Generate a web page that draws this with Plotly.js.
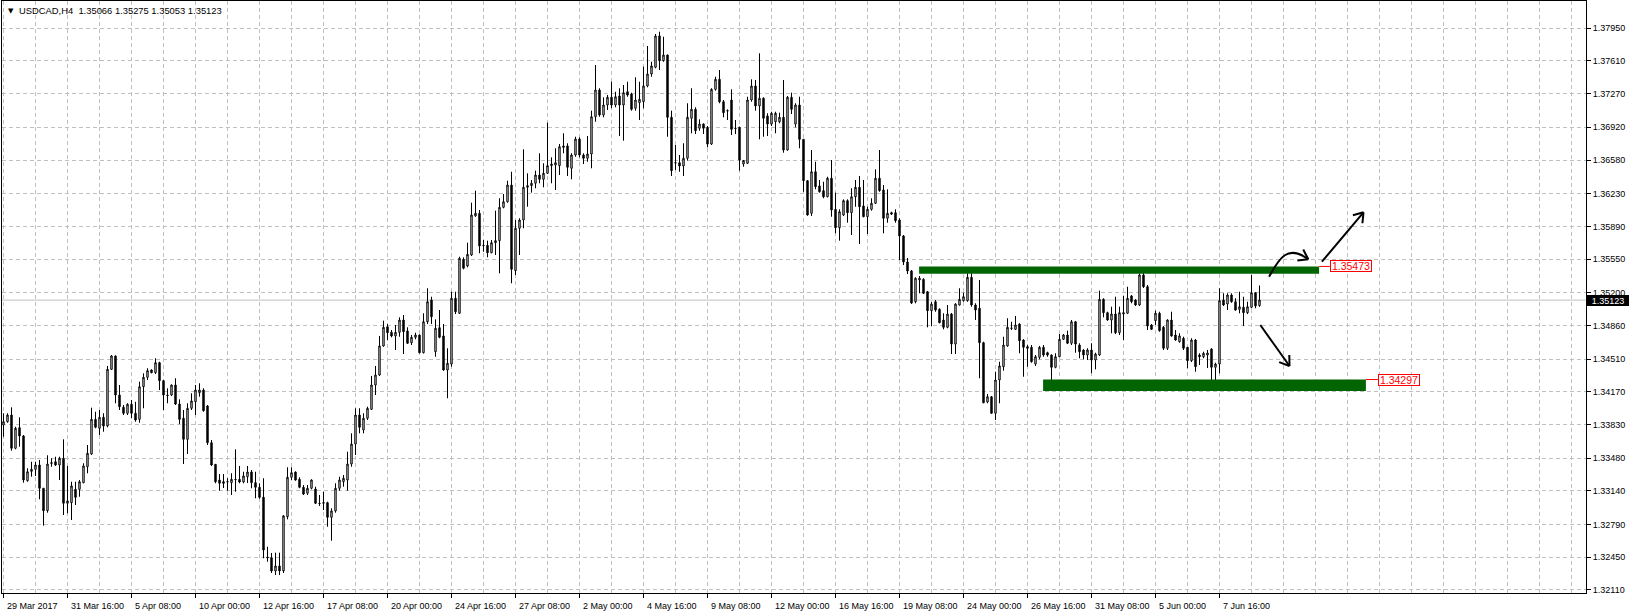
<!DOCTYPE html>
<html><head><meta charset="utf-8">
<script src="https://cdn.plot.ly/plotly-3.0.1.min.js"></script>
<style>html,body{margin:0;padding:0;background:#fff;overflow:hidden}#chart{width:1629px;height:613px}</style>
</head><body><div id="chart"></div>
<script>
// ---------------- DATA (USDCAD, H4) ----------------
const symbol = "USDCAD,H4";
const open = [
1.33824,1.33858,1.33928,1.33582,1.33796,1.33710,1.33245,1.33342,1.33363,1.33408,
1.33166,1.32933,1.33424,1.33442,1.33408,1.33478,1.33010,1.33016,1.33155,1.33155,
1.33224,1.33390,1.33522,1.33883,1.33790,1.33904,1.33814,1.34403,1.34542,1.34136,
1.34008,1.33946,1.34040,1.33946,1.33883,1.34222,1.34320,1.34396,1.34368,1.34472,
1.34285,1.34136,1.34136,1.34240,1.34042,1.33894,1.33675,1.33998,1.34066,1.34160,
1.34188,1.34022,1.33640,1.33415,1.33252,1.33234,1.33231,1.33224,1.33259,1.33259,
1.33231,1.33286,1.33335,1.33224,1.33176,1.33072,1.32451,1.32444,1.32306,1.32358,
1.32306,1.32870,1.33280,1.33335,1.33259,1.33176,1.33114,1.33166,1.33158,1.33010,
1.33010,1.33016,1.32864,1.32930,1.33166,1.33234,1.33252,1.33418,1.33626,1.33928,
1.33772,1.33894,1.33987,1.34240,1.34344,1.34646,1.34846,1.34788,1.34750,1.34788,
1.34916,1.34802,1.34680,1.34736,1.34760,1.34576,1.34898,1.35124,1.34586,1.34836,
1.34750,1.34396,1.34458,1.35142,1.34986,1.35547,1.35478,1.35592,1.35998,1.36026,
1.35693,1.35693,1.35616,1.35720,1.35741,1.36088,1.36146,1.36320,1.35429,1.35870,
1.35956,1.36296,1.36313,1.36338,1.36424,1.36379,1.36442,1.36521,1.36528,1.36521,
1.36726,1.36726,1.36494,1.36632,1.36798,1.36632,1.36598,1.36642,1.37030,1.37308,
1.37048,1.37152,1.37232,1.37152,1.37246,1.37152,1.37290,1.37266,1.37118,1.37176,
1.37186,1.37350,1.37474,1.37544,1.37870,1.37613,1.37672,1.37024,1.36552,1.36552,
1.36518,1.36598,1.37014,1.37107,1.36910,1.36954,1.36920,1.36746,1.37315,1.37419,
1.37186,1.37093,1.37204,1.36910,1.36920,1.36538,1.36546,1.37204,1.37350,1.37142,
1.37222,1.37038,1.36954,1.36978,1.36978,1.37024,1.36684,1.37232,1.36954,1.37152,
1.36795,1.36365,1.36026,1.36458,1.36310,1.36261,1.36198,1.36390,1.36067,1.35876,
1.36008,1.36157,1.36032,1.36198,1.36296,1.36102,1.35990,1.36067,1.36130,1.36390,
1.36268,1.35974,1.36032,1.36032,1.35956,1.35790,1.35519,1.35426,1.35106,1.35332,
1.35339,1.35210,1.35013,1.35106,1.35027,1.34916,1.34840,1.34978,1.34666,1.35072,
1.35117,1.35117,1.35360,1.35072,1.35038,1.34680,1.34063,1.34118,1.33946,1.34292,
1.34430,1.34646,1.34833,1.34819,1.34874,1.34708,1.34638,1.34632,1.34458,1.34528,
1.34632,1.34576,1.34552,1.34424,1.34534,1.34715,1.34760,1.34674,1.34898,1.34656,
1.34604,1.34552,1.34604,1.34500,1.34552,1.35131,1.34992,1.34916,1.34978,1.34784,
1.34978,1.34986,1.35166,1.35124,1.35072,1.35384,1.35262,1.34864,1.34909,1.34986,
1.34840,1.34622,1.34916,1.34760,1.34690,1.34726,1.34632,1.34493,1.34708,1.34552,
1.34534,1.34552,1.34614,1.34424,1.34458,1.35124,1.35082,1.35176,1.35106,1.35027,
1.35048,1.34992,1.35048,1.35200,1.35066];
const high = [
1.33946,1.33946,1.34008,1.33806,1.33904,1.33720,1.33374,1.33442,1.33442,1.33460,
1.33169,1.33509,1.33478,1.33494,1.33494,1.33675,1.33398,1.33234,1.33234,1.33252,
1.33426,1.33616,1.34004,1.33962,1.33980,1.33946,1.34438,1.34552,1.34547,1.34240,
1.34032,1.34050,1.34084,1.34066,1.34274,1.34362,1.34414,1.34403,1.34518,1.34482,
1.34292,1.34206,1.34245,1.34310,1.34091,1.33980,1.34050,1.34154,1.34240,1.34258,
1.34206,1.34032,1.33668,1.33418,1.33314,1.33314,1.33270,1.33322,1.33571,1.33398,
1.33338,1.33398,1.33356,1.33338,1.33218,1.33270,1.32558,1.32493,1.32496,1.32496,
1.32888,1.33384,1.33384,1.33341,1.33280,1.33200,1.33200,1.33259,1.33182,1.33096,
1.33130,1.33026,1.32958,1.33218,1.33286,1.33304,1.33546,1.33738,1.33998,1.33998,
1.33946,1.34014,1.34334,1.34438,1.34750,1.34909,1.34874,1.34812,1.34864,1.34944,
1.34968,1.34840,1.34760,1.34784,1.34765,1.34986,1.35246,1.35158,1.34923,1.35020,
1.34874,1.34622,1.35210,1.35210,1.35574,1.35568,1.35720,1.36136,1.36261,1.36060,
1.35748,1.35741,1.35748,1.36053,1.36182,1.36226,1.36365,1.36458,1.35956,1.35974,
1.36691,1.36442,1.36372,1.36469,1.36650,1.36546,1.36968,1.36608,1.36702,1.36746,
1.36858,1.36754,1.36650,1.36822,1.36816,1.36650,1.36830,1.37093,1.37568,1.37326,
1.37232,1.37256,1.37394,1.37290,1.37326,1.37360,1.37394,1.37280,1.37440,1.37394,
1.37550,1.37766,1.37602,1.37890,1.37914,1.37862,1.37677,1.37093,1.36736,1.36632,
1.36754,1.37170,1.37326,1.37128,1.37003,1.36960,1.36934,1.37326,1.37446,1.37516,
1.37204,1.37107,1.37315,1.36996,1.36926,1.36580,1.37238,1.37419,1.37412,1.37690,
1.37232,1.37066,1.37082,1.37082,1.37072,1.37412,1.37246,1.37280,1.37170,1.37238,
1.36798,1.36372,1.36684,1.36562,1.36372,1.36354,1.36406,1.36580,1.36240,1.36067,
1.36171,1.36171,1.36286,1.36372,1.36414,1.36372,1.36094,1.36182,1.36483,1.36684,
1.36320,1.36275,1.36042,1.36067,1.35974,1.35800,1.35561,1.35436,1.35360,1.35374,
1.35350,1.35218,1.35106,1.35124,1.35038,1.34986,1.35072,1.34989,1.35090,1.35246,
1.35200,1.35402,1.35402,1.35090,1.35332,1.34690,1.34146,1.34126,1.34378,1.34482,
1.34742,1.34934,1.34898,1.34958,1.34882,1.34715,1.34656,1.34656,1.34552,1.34646,
1.34656,1.34586,1.34557,1.34570,1.34770,1.34770,1.34805,1.34916,1.34906,1.34674,
1.34611,1.34622,1.34674,1.34576,1.35221,1.35142,1.35002,1.35054,1.35158,1.35054,
1.35166,1.35262,1.35176,1.35131,1.35402,1.35454,1.35280,1.34874,1.35013,1.35002,
1.34854,1.34923,1.35002,1.34812,1.34778,1.34742,1.34635,1.34726,1.34718,1.34570,
1.34586,1.34604,1.34622,1.34472,1.35246,1.35194,1.35194,1.35194,1.35142,1.35210,
1.35158,1.35106,1.35384,1.35205,1.35275];
const low = [
1.33702,1.33848,1.33557,1.33571,1.33598,1.33224,1.33234,1.33286,1.33294,1.33051,
1.32777,1.32912,1.33390,1.33398,1.33252,1.32888,1.32906,1.32836,1.32992,1.33078,
1.33218,1.33322,1.33512,1.33790,1.33720,1.33754,1.33800,1.34396,1.34050,1.33980,
1.33928,1.33928,1.33894,1.33858,1.33848,1.33998,1.34292,1.34362,1.34354,1.34188,
1.33980,1.34050,1.34126,1.34032,1.33834,1.33418,1.33522,1.33980,1.33928,1.34118,
1.33962,1.33616,1.33398,1.33218,1.33141,1.33169,1.33141,1.33096,1.33130,1.33218,
1.33218,1.33221,1.33166,1.33062,1.33057,1.32438,1.32402,1.32285,1.32264,1.32264,
1.32285,1.32843,1.33252,1.33245,1.33166,1.33096,1.33096,1.33155,1.33002,1.32982,
1.32940,1.32766,1.32621,1.32912,1.33141,1.33182,1.33141,1.33390,1.33512,1.33738,
1.33738,1.33876,1.33980,1.34136,1.34334,1.34638,1.34708,1.34736,1.34604,1.34742,
1.34562,1.34666,1.34656,1.34715,1.34568,1.34568,1.34874,1.34874,1.34534,1.34726,
1.34389,1.34102,1.34430,1.34978,1.34978,1.35443,1.35464,1.35582,1.35990,1.35610,
1.35626,1.35568,1.35610,1.35592,1.35402,1.36078,1.36136,1.35298,1.35384,1.35592,
1.35870,1.36094,1.36240,1.36286,1.36338,1.36296,1.36434,1.36338,1.36268,1.36424,
1.36650,1.36414,1.36379,1.36614,1.36608,1.36538,1.36562,1.36494,1.36978,1.37030,
1.37024,1.37100,1.37118,1.37128,1.36830,1.36781,1.37238,1.37093,1.37093,1.36996,
1.37118,1.37336,1.37446,1.37534,1.37516,1.37602,1.36822,1.36414,1.36476,1.36458,
1.36414,1.36573,1.36858,1.36850,1.36885,1.36850,1.36712,1.36736,1.37301,1.37170,
1.37024,1.36996,1.36840,1.36850,1.36469,1.36510,1.36538,1.37186,1.37093,1.36795,
1.36822,1.36830,1.36934,1.36858,1.36962,1.36656,1.36677,1.37058,1.36920,1.36702,
1.36250,1.36001,1.35998,1.36275,1.36240,1.36182,1.36192,1.35990,1.35818,1.35741,
1.35998,1.35928,1.35800,1.36094,1.35706,1.35984,1.35810,1.36053,1.36122,1.36250,
1.35818,1.35928,1.36008,1.35928,1.35540,1.35488,1.35394,1.35082,1.35090,1.35194,
1.35186,1.34840,1.34854,1.35002,1.34882,1.34819,1.34830,1.34562,1.34562,1.35067,
1.35106,1.35106,1.35054,1.34916,1.34310,1.34050,1.34050,1.33938,1.33876,1.34050,
1.34389,1.34638,1.34812,1.34812,1.34570,1.34326,1.34430,1.34472,1.34438,1.34507,
1.34534,1.34534,1.34274,1.34414,1.34528,1.34708,1.34666,1.34656,1.34576,1.34518,
1.34507,1.34500,1.34362,1.34403,1.34542,1.34944,1.34909,1.34778,1.34770,1.34760,
1.34708,1.34978,1.35090,1.35062,1.35062,1.35249,1.34812,1.34812,1.34864,1.34794,
1.34604,1.34604,1.34742,1.34701,1.34680,1.34604,1.34414,1.34479,1.34378,1.34448,
1.34518,1.34417,1.34292,1.34264,1.34362,1.35062,1.35020,1.35096,1.35013,1.34986,
1.34854,1.34978,1.35038,1.35038,1.35053];
const close = [
1.33858,1.33928,1.33582,1.33790,1.33710,1.33252,1.33338,1.33363,1.33408,1.33166,
1.32933,1.33418,1.33432,1.33408,1.33478,1.33010,1.33034,1.33190,1.33072,1.33234,
1.33398,1.33530,1.33883,1.33800,1.33904,1.33814,1.34403,1.34542,1.34136,1.34014,
1.33946,1.34040,1.33946,1.33876,1.34222,1.34320,1.34389,1.34368,1.34472,1.34285,
1.34136,1.34131,1.34240,1.34042,1.33883,1.33675,1.33998,1.34074,1.34188,1.34188,
1.33973,1.33640,1.33408,1.33234,1.33218,1.33218,1.33234,1.33259,1.33256,1.33231,
1.33294,1.33335,1.33224,1.33176,1.33072,1.32524,1.32444,1.32306,1.32358,1.32306,
1.32878,1.33280,1.33328,1.33252,1.33176,1.33106,1.33166,1.33252,1.33010,1.33007,
1.33016,1.32864,1.32930,1.33166,1.33252,1.33270,1.33418,1.33626,1.33928,1.33800,
1.33894,1.33998,1.34240,1.34344,1.34646,1.34840,1.34784,1.34750,1.34788,1.34916,
1.34794,1.34674,1.34736,1.34760,1.34576,1.34898,1.35106,1.34950,1.34830,1.34736,
1.34396,1.34466,1.35142,1.35002,1.35558,1.35454,1.35599,1.36008,1.36026,1.35686,
1.35690,1.35616,1.35720,1.35741,1.36088,1.36146,1.36320,1.35443,1.35870,1.35956,
1.36296,1.36313,1.36338,1.36424,1.36379,1.36442,1.36521,1.36538,1.36552,1.36718,
1.36712,1.36504,1.36632,1.36798,1.36632,1.36598,1.36642,1.37030,1.37308,1.37048,
1.37152,1.37232,1.37152,1.37238,1.37152,1.37280,1.37256,1.37107,1.37204,1.37211,
1.37350,1.37474,1.37558,1.37870,1.37613,1.37672,1.37024,1.36469,1.36549,1.36518,
1.36598,1.37024,1.37107,1.36885,1.36954,1.36910,1.36746,1.37315,1.37419,1.37186,
1.37072,1.37090,1.36899,1.36907,1.36580,1.36575,1.37204,1.37350,1.37142,1.37222,
1.37014,1.36954,1.37066,1.37066,1.37024,1.36684,1.37232,1.37107,1.37152,1.36795,
1.36365,1.36008,1.36458,1.36302,1.36250,1.36198,1.36390,1.36060,1.35876,1.36042,
1.36157,1.36032,1.36198,1.36296,1.36094,1.35990,1.36067,1.36130,1.36390,1.36261,
1.35974,1.36026,1.36018,1.35949,1.35790,1.35519,1.35426,1.35093,1.35350,1.35350,
1.35194,1.35013,1.35082,1.35020,1.34888,1.34840,1.34978,1.34666,1.35082,1.35131,
1.35158,1.35360,1.35072,1.35020,1.34680,1.34056,1.34118,1.33946,1.34292,1.34438,
1.34656,1.34840,1.34830,1.34864,1.34701,1.34632,1.34622,1.34482,1.34534,1.34632,
1.34552,1.34552,1.34424,1.34534,1.34715,1.34760,1.34674,1.34898,1.34666,1.34586,
1.34552,1.34604,1.34500,1.34562,1.35131,1.34992,1.34916,1.34978,1.34784,1.34992,
1.34992,1.35142,1.35106,1.35072,1.35384,1.35262,1.34854,1.34819,1.34986,1.34805,
1.34622,1.34916,1.34750,1.34708,1.34750,1.34622,1.34493,1.34708,1.34430,1.34534,
1.34570,1.34573,1.34424,1.34458,1.35117,1.35072,1.35176,1.35106,1.35020,1.35054,
1.34992,1.35054,1.35200,1.35062,1.35123];

// time labels: one every 16 bars (H4)
const timeLabels = ["29 Mar 2017","31 Mar 16:00","5 Apr 08:00","10 Apr 00:00","12 Apr 16:00",
  "17 Apr 08:00","20 Apr 00:00","24 Apr 16:00","27 Apr 08:00","2 May 00:00","4 May 16:00",
  "9 May 08:00","12 May 00:00","16 May 16:00","19 May 08:00","24 May 00:00","26 May 16:00",
  "31 May 08:00","5 Jun 00:00","7 Jun 16:00"];
const labelStep = 16;
const priceTicks = [1.37950,1.37610,1.37270,1.36920,1.36580,1.36230,1.35890,1.35550,1.35200,
  1.34860,1.34510,1.34170,1.33830,1.33480,1.33140,1.32790,1.32450,1.32110];
const priceTickText = priceTicks.map(v => v.toFixed(5));
const lastPrice = 1.35123;

// drawn objects (bar index, price)
const resistance = {top: 1.35473, bottom: 1.35398, from: 228.9, to: 328.9, labelAt: 331.6};
const support    = {top: 1.34297, bottom: 1.34178, from: 259.9, to: 340.6, labelAt: 343.6};
const arrowUp    = {from: [329.6, 1.35522], to: [340.0, 1.36036]};
const arrowDown  = {from: [314.2, 1.34864], to: [321.5, 1.34438]};
const arrowCurve = [[316.4, 1.35366], [318.9, 1.35561], [321.1, 1.35706], [326.2, 1.35547]];

// ---------------- LAYOUT GEOMETRY ----------------
const W = 1629, H = 613;
const M = {l: 2, r: 43, t: 1, b: 20};
const plotW = W - M.l - M.r, plotH = H - M.t - M.b;
const xRange = [-0.375, -0.375 + plotW / 4];
const yRange = [1.320768, 1.382336];
const pxPerX = plotW / (xRange[1] - xRange[0]);
const pxPerY = plotH / (yRange[1] - yRange[0]);
const paperX = px => (px - M.l) / plotW;
const paperY = py => (M.t + plotH - py) / plotH;

const FONT = "Liberation Sans, Arial, sans-serif";
const GRID = '#c0c0c0';
const barIndex = open.map((_, i) => i);
const labelBars = timeLabels.map((_, k) => k * labelStep);

function head(tip, from, len, ang) {
  const dx = (tip[0] - from[0]) * pxPerX, dy = -(tip[1] - from[1]) * pxPerY;
  const n = Math.hypot(dx, dy), ux = dx / n, uy = dy / n;
  const out = [];
  [ang, -ang].forEach(a => {
    const c = Math.cos(a), s = Math.sin(a);
    const rx = ux * c - uy * s, ry = ux * s + uy * c;
    out.push([tip[0] - rx * len / pxPerX, tip[1] + ry * len / pxPerY]);
  });
  return out;
}
function lineShape(a, b, color, width) {
  return {type: 'line', xref: 'x', yref: 'y', x0: a[0], y0: a[1], x1: b[0], y1: b[1],
          line: {color: color, width: width}, layer: 'above'};
}
function arrowShapes(from, tip) {
  const hs = head(tip, from, 11, 0.6);
  return [lineShape(from, tip, '#000', 2), lineShape(hs[0], tip, '#000', 2), lineShape(hs[1], tip, '#000', 2)];
}
function bez(p, t) {
  const a = (1 - t) ** 3, b = 3 * (1 - t) ** 2 * t, c = 3 * (1 - t) * t * t, d = t ** 3;
  return [a * p[0][0] + b * p[1][0] + c * p[2][0] + d * p[3][0], a * p[0][1] + b * p[1][1] + c * p[2][1] + d * p[3][1]];
}

const shapes = [];
shapes.push({type: 'line', xref: 'paper', x0: 0, x1: 1, yref: 'y', y0: lastPrice, y1: lastPrice,
             line: {color: GRID, width: 1}, layer: 'below'});
[resistance, support].forEach(z => {
  shapes.push({type: 'rect', xref: 'x', yref: 'y', x0: z.from, x1: z.to, y0: z.bottom, y1: z.top,
               fillcolor: '#006400', line: {width: 0}, layer: 'above'});
  shapes.push(lineShape([z.to, z.top], [z.labelAt, z.top], '#ff0000', 1));
});
shapes.push(...arrowShapes(arrowUp.from, arrowUp.to));
shapes.push(...arrowShapes(arrowDown.from, arrowDown.to));
const cp = arrowCurve;
shapes.push({type: 'path', xref: 'x', yref: 'y', layer: 'above', line: {color: '#000', width: 2},
  path: `M ${cp[0][0]},${cp[0][1]} C ${cp[1][0]},${cp[1][1]} ${cp[2][0]},${cp[2][1]} ${cp[3][0]},${cp[3][1]}`});
head(cp[3], bez(cp, 0.8), 11, 0.6).forEach(h => shapes.push(lineShape(h, cp[3], '#000', 2)));

const annotations = [];
timeLabels.forEach((t, k) => annotations.push({
  text: t, xref: 'x', x: labelBars[k], xanchor: 'left', xshift: 1,
  yref: 'paper', y: paperY(606), yanchor: 'middle', showarrow: false,
  font: {family: FONT, size: 9, color: '#000'}
}));
[resistance, support].forEach(z => annotations.push({
  text: z.top.toFixed(5), xref: 'x', x: z.labelAt, xanchor: 'left', yref: 'y', y: z.top, yanchor: 'middle',
  showarrow: false, bgcolor: '#fff', bordercolor: '#ff0000', borderwidth: 1, borderpad: 0,
  width: 40, height: 10, font: {family: FONT, size: 10.5, color: '#ff0000'}
}));
annotations.push({
  text: lastPrice.toFixed(5), xref: 'paper', x: 1, xanchor: 'left', xshift: 1, yref: 'y', y: lastPrice,
  yanchor: 'middle', showarrow: false, bgcolor: '#000', bordercolor: '#000', borderwidth: 1, borderpad: 0,
  width: 40, height: 9, font: {family: FONT, size: 9, color: '#fff'}
});
annotations.push({
  text: '\u25BC', xref: 'paper', x: paperX(6), xanchor: 'left', yref: 'paper', y: paperY(11), yanchor: 'middle',
  showarrow: false, font: {family: 'DejaVu Sans', size: 7, color: '#000'}
});
annotations.push({
  text: symbol + '\u00a0\u00a0' + [open[open.length - 1], high[high.length - 1], low[low.length - 1], close[close.length - 1]].map(v => v.toFixed(5)).join(' '),
  xref: 'paper', x: paperX(17), xanchor: 'left', yref: 'paper', y: paperY(11), yanchor: 'middle',
  showarrow: false, font: {family: FONT, size: 9.4, color: '#000'}
});

const trace = {
  type: 'candlestick', x: barIndex, open: open, high: high, low: low, close: close,
  increasing: {line: {color: '#000', width: 1}, fillcolor: '#fff'},
  decreasing: {line: {color: '#000', width: 1}, fillcolor: '#000'},
  whiskerwidth: 0, hoverinfo: 'skip', showlegend: false
};

const layout = {
  width: W, height: H, margin: M, paper_bgcolor: '#fff', plot_bgcolor: '#fff',
  showlegend: false, boxgap: 0.5, dragmode: false,
  xaxis: {
    range: xRange, type: 'linear', rangeslider: {visible: false}, fixedrange: true,
    tickmode: 'array', tickvals: labelBars, showticklabels: false,
    ticks: 'outside', ticklen: 4, tickcolor: '#000', tickwidth: 1,
    showgrid: true, gridcolor: GRID, griddash: '4px,3px', gridwidth: 1,
    minor: {tick0: 0, dtick: 8, showgrid: true, gridcolor: GRID, griddash: '4px,3px', gridwidth: 1, ticks: ''},
    zeroline: false, showline: true, mirror: true, linecolor: '#000', linewidth: 1
  },
  yaxis: {
    range: yRange, side: 'right', fixedrange: true,
    tickmode: 'array', tickvals: priceTicks, ticktext: priceTickText,
    ticks: 'outside', ticklen: 4, tickcolor: '#000', tickwidth: 1,
    tickfont: {family: FONT, size: 9, color: '#000'},
    showgrid: true, gridcolor: GRID, griddash: '4px,3px', gridwidth: 1,
    zeroline: false, showline: true, mirror: true, linecolor: '#000', linewidth: 1
  },
  shapes: shapes, annotations: annotations
};

Plotly.newPlot('chart', [trace], layout, {staticPlot: true, displayModeBar: false});
</script>
</body></html>
